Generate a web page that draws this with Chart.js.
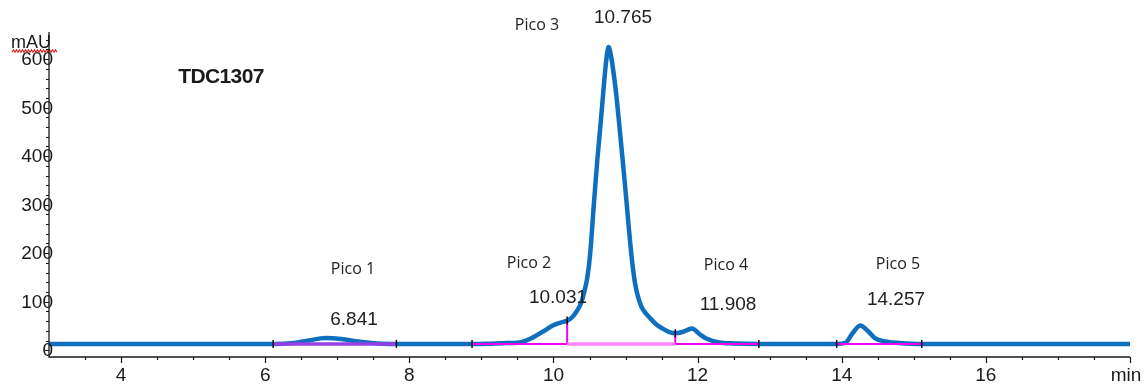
<!DOCTYPE html>
<html>
<head>
<meta charset="utf-8">
<script src="https://cdn.jsdelivr.net/npm/chart.js@4.4.1/dist/chart.umd.min.js"></script>
<style>
    html, body { margin: 0; padding: 0; background: #fff; }
    #wrap { width: 1148px; height: 385px; }
</style>
</head>
<body>
<div id="wrap"><canvas id="chrom" width="1148" height="385"></canvas></div>
<script>
// Chromatogram trace (min, mAU)
const times = [3.0, 4.0, 5.0, 6.0, 6.11, 6.4, 6.6, 6.84, 7.05, 7.3, 7.55, 7.82, 8.3, 8.87, 9.1, 9.3, 9.53, 9.71, 9.85,
    9.99, 10.1, 10.19, 10.26, 10.33, 10.39, 10.43, 10.47, 10.51, 10.56, 10.61, 10.65, 10.69, 10.72, 10.745, 10.765,
    10.8, 10.84, 10.88, 10.92, 10.965, 11.01, 11.05, 11.09, 11.13, 11.17, 11.22, 11.27, 11.33, 11.42, 11.51, 11.6,
    11.69, 11.8, 11.92, 12.02, 12.12, 12.3, 12.5, 12.85, 13.4, 13.93, 14.05, 14.15,
    14.257, 14.36, 14.46, 14.6, 14.8, 15.11, 15.6, 16.5, 17.3, 18.0];
const signal = [13, 13, 13, 13, 13, 15, 20, 25, 23, 18, 14, 13, 13, 13, 13.5, 14.5, 16, 26, 38,
    51, 57, 61, 68, 82, 100, 122, 150, 200, 300, 395, 460, 530, 580, 612, 625,
    605, 565, 515, 454, 385, 312, 245, 185, 140, 112, 90, 78, 68, 54, 45, 38,
    35, 38, 45, 34, 24, 16, 14, 13, 13, 13, 15, 35,
    51, 40, 25, 18, 15, 13, 13, 13, 13, 13];

const peakNames = ['Pico 1', 'Pico 2', 'Pico 3', 'Pico 4', 'Pico 5'];
const peakTimes = [6.841, 10.031, 10.765, 11.908, 14.257];

// integration events: baselines and drop lines
const baselineLevel = 13;
const baselineStarts = [6.11, 8.87, 13.93];
const baselineEnds = [7.82, 12.85, 15.11];
const dropTimes = [10.19, 11.69];

const xLabels = [4, 6, 8, 10, 12, 14, 16];
const yLabels = [0, 100, 200, 300, 400, 500, 600];

const BLUE = '#0e6fbf';
const MAGENTA = '#f000f0';

function signalAt(t) {
    return signal[times.indexOf(t)];
}

function buildDatasets() {
    const sets = [];
    // baselines, the one of Pico 1 sits on the trace and reads purple
    baselineStarts.forEach((s, i) => {
        const e = baselineEnds[i];
        const cuts = [s, ...dropTimes.filter(d => d > s && d < e), e];
        for (let k = 0; k < cuts.length - 1; k++) {
            const middle = cuts.length > 2 && k === 1;
            sets.push({
                data: [{ x: cuts[k], y: baselineLevel }, { x: cuts[k + 1], y: baselineLevel }],
                borderColor: i === 0 ? '#9440e4' : (middle ? '#ff86ff' : MAGENTA),
                borderWidth: i === 0 ? 3.5 : (middle ? 3.5 : 2),
                pointRadius: 0,
                order: 2
            });
        }
    });
    dropTimes.forEach(d => {
        sets.push({
            data: [{ x: d, y: baselineLevel }, { x: d, y: signalAt(d) }],
            borderColor: MAGENTA,
            borderWidth: 2,
            pointRadius: 0,
            order: 2
        });
    });
    // small black event marks
    const marks = [];
    baselineStarts.forEach((s, i) => {
        marks.push({ x: s, y: baselineLevel }, { x: baselineEnds[i], y: baselineLevel });
    });
    dropTimes.forEach(d => marks.push({ x: d, y: signalAt(d) }));
    sets.push({
        type: 'scatter',
        data: marks,
        pointStyle: 'line',
        rotation: 90,
        pointRadius: 4,
        borderColor: '#111',
        borderWidth: 1.5,
        order: 1
    });
    // trace, drawn first
    sets.push({
        data: times.map((t, i) => ({ x: t, y: signal[i] })),
        borderColor: BLUE,
        borderWidth: 4.5,
        pointRadius: 0,
        cubicInterpolationMode: 'monotone',
        order: 10
    });
    return sets;
}

// axes, ticks and texts drawn by hand
const decorPlugin = {
    id: 'decor',
    afterDraw(chart) {
        const ctx = chart.ctx;
        const xs = chart.scales.x;
        const ys = chart.scales.y;
        const area = chart.chartArea;
        ctx.save();
        ctx.fillStyle = '#1a1a1a';
        ctx.strokeStyle = '#1a1a1a';

        // y labels (the axis line runs through their last digit)
        ctx.font = '19px Arial, "Liberation Sans", sans-serif';
        ctx.textAlign = 'right';
        ctx.textBaseline = 'middle';
        yLabels.forEach(v => ctx.fillText(String(v), area.left + 4, ys.getPixelForValue(v) + 1));
        ctx.textAlign = 'left';
        ctx.font = '18px Arial, "Liberation Sans", sans-serif';
        ctx.fillText('mAU', 11, 43);

        // red wavy underline under mAU
        ctx.strokeStyle = '#e02020';
        ctx.lineWidth = 1.2;
        ctx.beginPath();
        for (let x = 12; x <= 57; x += 1.5) {
            const y = 51 + (Math.round((x - 12) / 1.5) % 2 ? -1.2 : 1.2);
            if (x === 12) ctx.moveTo(x, y); else ctx.lineTo(x, y);
        }
        ctx.stroke();

        // axis lines
        ctx.strokeStyle = '#1a1a1a';
        ctx.lineWidth = 1.3;
        ctx.beginPath();
        ctx.moveTo(area.left, area.top);
        ctx.lineTo(area.left, area.bottom);
        ctx.lineTo(area.right, area.bottom);
        ctx.stroke();

        // y ticks every 20
        ctx.lineWidth = 1.2;
        ctx.beginPath();
        for (let v = 0; v <= 640; v += 20) {
            const py = Math.round(ys.getPixelForValue(v)) + 0.5;
            const len = v % 100 === 0 ? 5 : 3;
            ctx.moveTo(area.left - len, py);
            ctx.lineTo(area.left, py);
        }
        // x ticks every 0.5
        for (let t = 3.5; t <= 18; t += 0.5) {
            const px = Math.round(xs.getPixelForValue(t)) + 0.5;
            const len = t % 2 === 0 ? 6 : 3;
            ctx.moveTo(px, area.bottom);
            ctx.lineTo(px, area.bottom + len);
        }
        ctx.stroke();

        // x labels
        ctx.font = '19px Arial, "Liberation Sans", sans-serif';
        ctx.textAlign = 'center';
        ctx.textBaseline = 'middle';
        xLabels.forEach(t => ctx.fillText(String(t), xs.getPixelForValue(t), 376));
        ctx.fillText('min', xs.getPixelForValue(18) - 4, 376);

        // sample name
        ctx.font = 'bold 21px Arial, "Liberation Sans", sans-serif';
        ctx.letterSpacing = '-0.6px';
        ctx.fillText('TDC1307', 221, 77);
        ctx.letterSpacing = '0px';

        // peak names and retention times
        const namePos = [[353, 269], [529, 263], [537, 25], [726, 265], [898, 264]];
        const timePos = [[354, 320], [558, 298], [623, 18], [728, 305], [896, 300]];
        ctx.fillStyle = '#222';
        ctx.font = '16px "Open Sans", "Noto Sans", sans-serif';
        peakNames.forEach((n, i) => ctx.fillText(n, namePos[i][0], namePos[i][1]));
        ctx.font = '19px Arial, "Liberation Sans", sans-serif';
        peakTimes.forEach((t, i) => ctx.fillText(t.toFixed(3), timePos[i][0], timePos[i][1]));
        ctx.restore();
    }
};

new Chart(document.getElementById('chrom').getContext('2d'), {
    type: 'line',
    data: { datasets: buildDatasets() },
    options: {
        responsive: false,
        animation: false,
        layout: { padding: { left: 49, right: 18, top: 32, bottom: 28 } },
        plugins: { legend: { display: false }, tooltip: { enabled: false } },
        scales: {
            x: { type: 'linear', min: 3, max: 18, display: false },
            y: { type: 'linear', min: -14, max: 656, display: false }
        }
    },
    plugins: [decorPlugin]
});
</script>
</body>
</html>
